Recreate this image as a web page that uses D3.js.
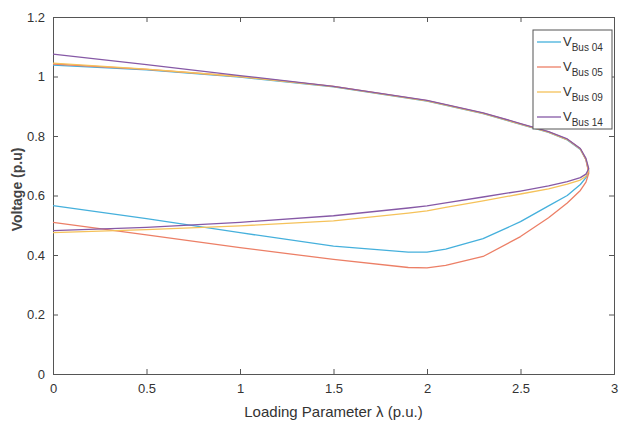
<!DOCTYPE html>
<html>
<head>
<meta charset="utf-8">
<script src="https://cdn.jsdelivr.net/npm/d3@7"></script>
<style>
  body { margin: 0; background: #fff; }
  svg { display: block; font-family: "Liberation Sans", Arial, sans-serif; }
</style>
</head>
<body>
<div id="chart"></div>
<script>
// loading parameter path: upper branch out to the nose, then lower branch back
const lambda = [0, 0.5, 1, 1.5, 2, 2.3, 2.5, 2.65, 2.75, 2.82, 2.85, 2.865,
                2.85, 2.82, 2.75, 2.65, 2.5, 2.3, 2.1, 2.0, 1.9, 1.5, 1, 0.5, 0];

const vBus04 = [1.038, 1.022, 0.998, 0.965, 0.917, 0.875, 0.839, 0.812, 0.787, 0.755, 0.72, 0.68,
                0.66, 0.637, 0.6, 0.565, 0.512, 0.455, 0.42, 0.41, 0.41, 0.43, 0.475, 0.522, 0.566];
const vBus05 = [1.042, 1.024, 1.0, 0.967, 0.919, 0.877, 0.841, 0.814, 0.789, 0.757, 0.72, 0.675,
                0.645, 0.617, 0.575, 0.525, 0.462, 0.395, 0.365, 0.357, 0.358, 0.385, 0.425, 0.468, 0.51];
const vBus09 = [1.045, 1.025, 1.0, 0.966, 0.918, 0.876, 0.84, 0.813, 0.788, 0.756, 0.722, 0.685,
                0.665, 0.652, 0.638, 0.622, 0.605, 0.582, 0.56, 0.548, 0.541, 0.515, 0.498, 0.485, 0.475];
const vBus14 = [1.075, 1.04, 1.003, 0.967, 0.92, 0.878, 0.842, 0.815, 0.79, 0.758, 0.725, 0.69,
                0.672, 0.66, 0.647, 0.632, 0.615, 0.595, 0.575, 0.565, 0.558, 0.532, 0.51, 0.493, 0.482];

const xTicks = [0, 0.5, 1, 1.5, 2, 2.5, 3];
const yTicks = [0, 0.2, 0.4, 0.6, 0.8, 1, 1.2];

const series = [
  { bus: "04", values: vBus04, color: "#45b0dc" },
  { bus: "05", values: vBus05, color: "#ec7f66" },
  { bus: "09", values: vBus09, color: "#f5c25a" },
  { bus: "14", values: vBus14, color: "#8659a6" }
];

const width = 620, height = 432;
const margin = { top: 17, right: 6, bottom: 58, left: 53 };

const svg = d3.select("#chart").append("svg")
  .attr("width", width)
  .attr("height", height);

const x = d3.scaleLinear().domain([0, 3]).range([margin.left, width - margin.right]);
const y = d3.scaleLinear().domain([0, 1.2]).range([height - margin.bottom, margin.top]);

const axisColor = "#555";

// axes with inward ticks, matlab style
const gx = svg.append("g")
  .attr("transform", `translate(0,${y(0)})`)
  .call(d3.axisBottom(x).tickValues(xTicks).tickSize(-5).tickPadding(10).tickFormat(d3.format("")));
const gxTop = svg.append("g")
  .attr("transform", `translate(0,${y(1.2)})`)
  .call(d3.axisTop(x).tickValues(xTicks).tickSize(-5).tickFormat(""));
const gy = svg.append("g")
  .attr("transform", `translate(${x(0)},0)`)
  .call(d3.axisLeft(y).tickValues(yTicks).tickSize(-5).tickPadding(8).tickFormat(d3.format("")));
const gyRight = svg.append("g")
  .attr("transform", `translate(${x(3)},0)`)
  .call(d3.axisRight(y).tickValues(yTicks).tickSize(-5).tickFormat(""));

[gx, gxTop, gy, gyRight].forEach(g => {
  g.select(".domain").attr("stroke", axisColor);
  g.selectAll(".tick line").attr("stroke", axisColor);
  g.selectAll("text").attr("fill", "#333").attr("font-size", 13)
    .attr("font-family", "Liberation Sans, Arial, sans-serif");
});

// lines
const line = d3.line()
  .x((d, i) => x(lambda[i]))
  .y(d => y(d));

svg.append("g")
  .selectAll("path")
  .data(series)
  .join("path")
  .attr("fill", "none")
  .attr("stroke", d => d.color)
  .attr("stroke-width", 1.3)
  .attr("stroke-linejoin", "round")
  .attr("d", d => line(d.values));

// axis labels
svg.append("text")
  .attr("x", (x(0) + x(3)) / 2)
  .attr("y", 417)
  .attr("text-anchor", "middle")
  .attr("font-size", 15)
  .attr("fill", "#333")
  .text("Loading Parameter λ (p.u.)");

svg.append("text")
  .attr("transform", `translate(22,${(y(0) + y(1.2)) / 2 - 6}) rotate(-90)`)
  .attr("text-anchor", "middle")
  .attr("font-size", 14)
  .attr("font-weight", "bold")
  .attr("fill", "#444")
  .text("Voltage (p.u)");

// legend
const legend = svg.append("g").attr("transform", "translate(533,30)");
legend.append("rect")
  .attr("width", 79).attr("height", 99)
  .attr("fill", "#fff").attr("stroke", axisColor);

const item = legend.selectAll(".item")
  .data(series)
  .join("g")
  .attr("class", "item")
  .attr("transform", (d, i) => `translate(0,${12 + i * 25})`);

item.append("line")
  .attr("x1", 4).attr("x2", 28)
  .attr("stroke", d => d.color).attr("stroke-width", 1.3);

const label = item.append("text")
  .attr("x", 30).attr("y", 4)
  .attr("fill", "#333")
  .attr("font-size", 13);
label.append("tspan").text("V");
label.append("tspan").attr("dy", 5).attr("font-size", 10).text(d => "Bus " + d.bus);
</script>
</body>
</html>
